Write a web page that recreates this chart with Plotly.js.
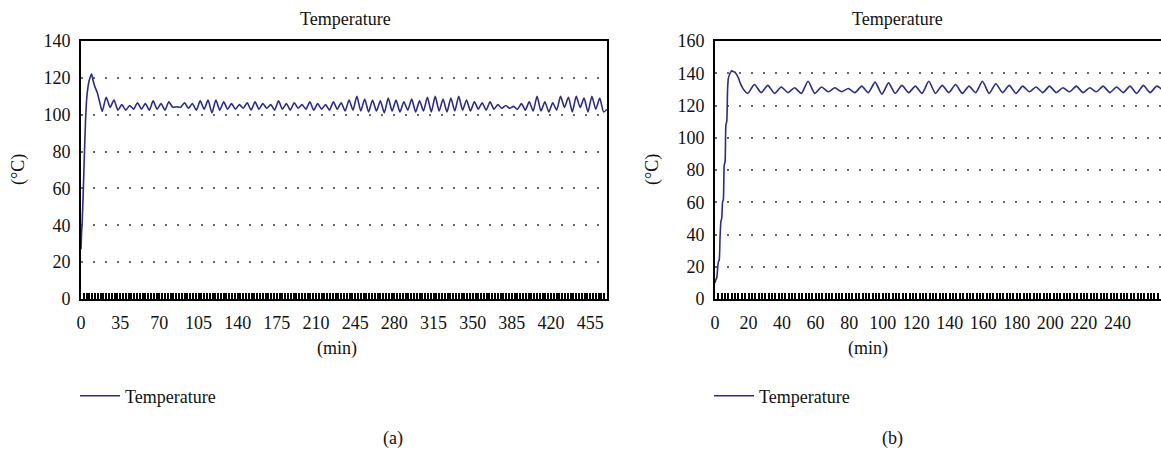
<!DOCTYPE html>
<html>
<head>
<meta charset="utf-8">
<script src="https://cdn.plot.ly/plotly-3.0.1.min.js"></script>
</head>
<body style="margin:0;padding:0;background:#fff;">
<div id="chart" style="width:1161px;height:451px;"></div>
<script>
// ---------- Panel (a) data ----------
var timeA = [0, 0.5, 1, 2, 3, 4, 5, 6.5, 8, 9.5, 11, 12.5, 14.5, 17,
  19, 22.5, 26, 29.5, 33, 36.5, 40, 43.5, 47, 50.5, 54, 57.5, 61, 64.5, 68, 71.5,
  75, 78.5, 82, 85.5, 89, 92.5, 96, 99.5, 103, 106.5, 110, 113.5, 117, 120.5, 124,
  127.5, 131, 134.5, 138, 141.5, 145, 148.5, 152, 155.5, 159, 162.5, 166, 169.5,
  173, 176.5, 180, 183.5, 187, 190.5, 194, 197.5, 201, 204.5, 208, 211.5, 215,
  218.5, 222, 225.5, 229, 232.5, 236, 239.5, 243, 246.5, 250, 253.5, 257, 260.5,
  264, 267.5, 271, 274.5, 278, 281.5, 285, 288.5, 292, 295.5, 299, 302.5, 306,
  309.5, 313, 316.5, 320, 323.5, 327, 330.5, 334, 337.5, 341, 344.5, 348, 351.5,
  355, 358.5, 362, 365.5, 369, 372.5, 376, 379.5, 383, 386.5, 390, 393.5, 397,
  400.5, 404, 407.5, 411, 414.5, 418, 421.5, 425, 428.5, 432, 435.5, 439, 442.5,
  446, 449.5, 453, 456.5, 460, 463.5, 467, 470];
var tempA = [27, 36, 41, 58, 78, 96, 108, 116, 120, 122, 118, 115, 112, 106,
  101.8, 109.5, 104, 108, 102.5, 105.5, 102.5, 105, 103, 106.5, 103, 106, 102.5, 107.5, 103, 106,
  102.5, 107, 104, 104.3, 104, 106.5, 103.5, 106, 102.5, 107.5, 103, 108, 101, 108, 102.5,
  107, 103, 106, 103, 105.5, 103.5, 106.5, 102.5, 107, 103, 106, 103.5, 105.5,
  102.5, 107.5, 103, 106, 102.5, 106.5, 103.5, 105.5, 103, 107, 102.5, 106, 103,
  105.5, 102.5, 107, 103, 106.5, 102, 108, 102.5, 110, 102, 108.5, 101.5, 108,
  102, 107.5, 101, 109, 102, 108, 101.5, 107, 102.5, 108.5, 101.5, 107.5, 102,
  109.5, 101.5, 110, 102, 108.5, 101.5, 109, 102, 110, 102.5, 108, 102, 107,
  103, 106.5, 102.5, 107, 103, 105.5, 103.5, 105, 103.5, 104.5, 103, 106, 102.5,
  107, 102, 110, 102, 107, 101.5, 106.5, 102.5, 110, 104, 109.5, 101.5, 110,
  104, 109, 101.5, 110, 103, 109, 101.5, 103];

// ---------- Panel (b) data ----------
var timeB = [0, 0.5, 1, 1.5, 2, 2.5, 3, 3.5, 4, 4.5, 5, 5.5, 6, 6.5, 7, 7.5, 8, 9, 10, 11, 12, 13, 14, 15, 17,
  19.5, 23.5, 27.5, 31.5, 35.5, 39.5, 43.5, 47.5, 51.5, 55.5, 59.5, 63.5, 67.5, 71.5,
  75.5, 79.5, 83.5, 87.5, 91.5, 95.5, 99.5, 103.5, 107.5, 111.5, 115.5, 119.5, 123.5,
  127.5, 131.5, 135.5, 139.5, 143.5, 147.5, 151.5, 155.5, 159.5, 163.5, 167.5, 171.5,
  175.5, 179.5, 183.5, 187.5, 191.5, 195.5, 199.5, 203.5, 207.5, 211.5, 215.5, 219.5,
  223.5, 227.5, 231.5, 235.5, 239.5, 243.5, 247.5, 251.5, 255.5, 259.5, 263.5, 267.5];
var tempB = [10, 12, 13, 18, 23, 24, 38, 48, 50, 60, 62, 83, 85, 108, 110, 130, 137, 140, 141.5, 141, 140.5, 139, 137, 134, 130,
  127.5, 133, 128, 132.5, 127.5, 131.5, 128, 131, 127.5, 135, 127.5, 131.5, 128.5, 131,
  128.5, 130.5, 128, 132, 128, 134.5, 127, 134, 127.5, 132.5, 128, 132, 127.5,
  135, 127.5, 132.5, 128, 133, 127.5, 132, 128, 135, 127.5, 133.5, 128,
  132.5, 127.5, 132, 128.5, 131.5, 128, 132, 128, 131, 128.5, 132, 128,
  131, 128.5, 132, 128, 131.5, 128, 132, 127.5, 132.5, 128, 132, 129];

// ---------- Tick labels ----------
var ticksA = [0, 35, 70, 105, 140, 175, 210, 245, 280, 315, 350, 385, 420, 455];
var ticksB = [0, 20, 40, 60, 80, 100, 120, 140, 160, 180, 200, 220, 240];
var yTicksA = [0, 20, 40, 60, 80, 100, 120, 140];
var yTicksB = [0, 20, 40, 60, 80, 100, 120, 140, 160];
var seriesName = "Temperature";

var W = 1161, H = 451;
var FAM = "Liberation Serif";
var FS = 18;
var LINECOL = "#2b2d84";
function fx(x){ return x / W; }
function fy(y){ return 1 - y / H; }
function fnt(){ return {family: FAM, size: FS, color: "#111"}; }

var traces = [
  {x: timeA, y: tempA, type: "scatter", mode: "lines", name: seriesName,
   line: {color: LINECOL, width: 1.6, shape: "spline", smoothing: 0.6},
   xaxis: "x", yaxis: "y", legend: "legend"},
  {x: timeB, y: tempB, type: "scatter", mode: "lines", name: seriesName,
   line: {color: LINECOL, width: 1.6, shape: "spline", smoothing: 0.6},
   xaxis: "x2", yaxis: "y2", legend: "legend2"}
];

function xAxis(domain, range, tv, dt, anchor){
  return {
    domain: domain, range: range, tickvals: tv, ticktext: tv.map(String), anchor: anchor,
    ticks: "inside", ticklen: 6, tickwidth: 1.5, tickcolor: "#000",
    minor: {dtick: dt, tick0: 0, ticks: "inside", ticklen: 6, tickwidth: 1.5, tickcolor: "#000"},
    showline: true, linecolor: "#000", linewidth: 2, mirror: true,
    showgrid: false, zeroline: false, ticklabelstandoff: 6,
    tickfont: fnt(), fixedrange: true
  };
}
function yAxis(domain, range, tv, anchor, mirror){
  return {
    domain: domain, range: range, tickvals: tv, ticktext: tv.map(String), ticks: "",
    showline: true, linecolor: "#000", linewidth: 2, mirror: mirror,
    showgrid: true, gridcolor: "#666", gridwidth: 1.5, griddash: "1.5px,10.5px",
    zeroline: false, ticklabelstandoff: 5, anchor: anchor,
    tickfont: fnt(), fixedrange: true
  };
}

var yDom = [fy(299), fy(41)];

function ann(text, x, y, angle){
  return {text: text, x: fx(x), y: fy(y), xref: "paper", yref: "paper",
    showarrow: false, xanchor: "center", yanchor: "middle", textangle: angle || 0,
    font: fnt()};
}

function leg(x){
  return {font: fnt(), bgcolor: "rgba(0,0,0,0)", x: fx(x), y: fy(396),
    xanchor: "left", yanchor: "middle", itemwidth: 40, orientation: "h"};
}

var layout = {
  width: W, height: H, margin: {l: 0, r: 0, t: 0, b: 0},
  paper_bgcolor: "#fff", plot_bgcolor: "#fff",
  showlegend: true,
  xaxis: xAxis([fx(81), fx(607)], [0, 470], ticksA, 2.5, "y"),
  yaxis: yAxis(yDom, [0, 140], yTicksA, "x", true),
  xaxis2: xAxis([fx(715), 1], [0, 266], ticksB, 2, "y2"),
  yaxis2: yAxis(yDom, [0, 160], yTicksB, "x2", false),
  legend: leg(75), legend2: leg(709),
  annotations: [
    ann("Temperature", 345, 19),
    ann("Temperature", 897, 19),
    ann("(min)", 337, 348),
    ann("(min)", 868, 348),
    ann("(°C)", 18, 170, -90),
    ann("(°C)", 652, 170, -90),
    ann("(a)", 393, 438),
    ann("(b)", 892, 438)
  ]
};

Plotly.newPlot("chart", traces, layout, {displayModeBar: false});
</script>
</body>
</html>
